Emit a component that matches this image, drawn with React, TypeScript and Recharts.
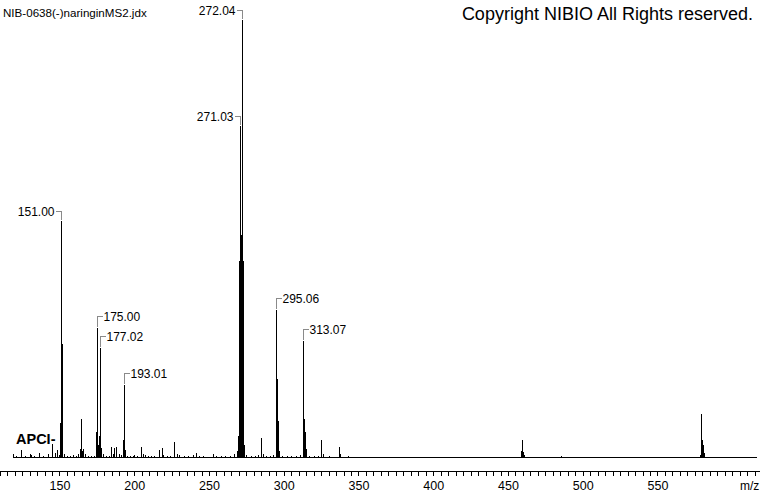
import React from 'react';
import { ComposedChart, Line, Scatter, XAxis, YAxis } from 'recharts';

const FONT = '"Liberation Sans", Arial, Helvetica, sans-serif';

const spectrumTitle = 'NIB-0638(-)naringinMS2.jdx';
const copyrightText = 'Copyright NIBIO All Rights reserved.';
const ionModeText = 'APCI-';
const xAxisTitle = 'm/z';

// scan range of the baseline (m/z)
const scanRange = [119, 616];

// peak positions (m/z) and relative intensities (%)
const peakMz = [
  119.2, 121, 124.4, 127, 130, 131, 133, 136.2, 139, 142.2, 144.7, 145.3, 146.9, 148.2, 149.5,
  150.6, 151.0, 151.4, 152, 153, 155, 157, 159, 161, 162.7, 163.5, 164.5, 165.2, 166, 167, 169,
  171, 173, 174.6, 175.0, 175.4, 176, 176.6, 177.02, 177.4, 178, 179, 181, 183, 184.6, 185.5,
  186.3, 187.9, 189.5, 191, 192.7, 193.01, 193.5, 195, 197, 199, 200, 202, 204.6, 205.7, 207,
  209, 211, 213, 216.4, 218.4, 219.5, 222, 224, 226.5, 228.5, 230, 233, 236, 239, 241, 243, 246,
  249, 252.5, 255, 258, 261, 264, 267, 268.9, 269.6, 270.1, 270.5, 271.03, 271.5, 272.04, 272.5,
  273.0, 273.5, 275, 278, 281, 283, 284.9, 286, 288, 291, 293, 294.6, 295.06, 295.4, 296.3, 297,
  299, 302, 305, 308, 311, 312.6, 313.07, 313.5, 314.2, 315, 317, 320, 323, 325, 326, 330, 333,
  336.9, 337.5, 342.9, 349, 357, 374, 397, 412, 433, 441, 452, 458.5, 459.1, 459.6, 460.1, 461,
  463, 472, 485.6, 561, 563, 578.3, 578.8, 579.17, 579.6, 580.2, 581.2,
];
const peakIntensity = [
  0.8, 0.4, 1.8, 0.4, 0.8, 0.6, 0.4, 1.2, 0.4, 1.0, 3.1, 1.0, 1.2, 1.8, 0.6,
  8, 54.2, 26, 4, 0.8, 0.5, 0.4, 0.6, 0.5, 1.0, 2, 8.9, 1.5, 2.0, 0.8, 0.5,
  0.4, 0.5, 6, 29.7, 14, 3, 5, 25.1, 8, 2.2, 1.0, 0.5, 0.5, 2.6, 0.8,
  2.2, 2.6, 1.0, 0.6, 4, 16.7, 1.8, 0.5, 0.4, 0.5, 0.7, 0.5, 2.4, 1.0, 0.6,
  0.4, 0.4, 0.5, 1.8, 2.2, 0.6, 0.4, 0.5, 3.7, 1.0, 0.6, 0.4, 0.4, 0.6, 1.1, 0.5, 0.4,
  0.3, 0.8, 0.4, 0.5, 0.4, 0.5, 1.0, 1.6, 5, 45, 30, 75.8, 51, 100, 45,
  15, 3, 0.6, 0.4, 0.5, 0.7, 4.6, 0.8, 0.4, 0.4, 0.6, 8, 33.8, 18, 8.4, 1.5,
  0.5, 0.4, 0.4, 0.5, 0.6, 3, 26.6, 9, 6, 2, 0.5, 0.4, 0.4, 4, 0.8, 0.4, 0.3,
  2.4, 0.8, 0.5, 0.3, 0.2, 0.3, 0.3, 0.2, 0.2, 0.2, 0.3, 1.5, 4.1, 2.2, 1.4, 0.7,
  0.3, 0.2, 0.5, 0.3, 0.3, 0.7, 1.2, 10.0, 4, 3, 1.2,
];

// annotated peaks
const labeledMz = [151.0, 175.0, 177.02, 193.01, 271.03, 272.04, 295.06, 313.07];
const labelsOnLeft = [151.0, 271.03, 272.04];

// x axis
const majorTickLabels = [150, 200, 250, 300, 350, 400, 450, 500, 550];
const minorTickStep = 5;
const X_DOMAIN: [number, number] = [109.87, 618.23];
const Y_DOMAIN: [number, number] = [-2.97, 100];

const minorTicks: number[] = [];
for (let t = 110; t <= 615; t += minorTickStep) minorTicks.push(t);

// stick trace: baseline with vertical sticks
const trace: { mz: number; y: number }[] = [{ mz: scanRange[0], y: 0 }];
peakMz.forEach((m, i) => {
  trace.push({ mz: m, y: 0 }, { mz: m, y: peakIntensity[i] }, { mz: m, y: 0 });
});
trace.push({ mz: scanRange[1], y: 0 });

const labeledPoints = labeledMz.map((m) => ({
  mz: m,
  y: peakIntensity[peakMz.indexOf(m)],
  text: m.toFixed(2),
  left: labelsOnLeft.includes(m),
}));

const PeakLabel = (props: any) => {
  const { cx, cy, payload } = props;
  if (cx == null || cy == null) return <g />;
  const px = Math.floor(cx) + 0.5;
  if (payload.left) {
    const ly = Math.round(cy - 10) + 0.5;
    return (
      <g>
        <path d={`M${px - 6},${ly}H${px}V${cy - 1}`} stroke="#8a8a8a" fill="none" strokeWidth={1} />
        <text x={px - 7} y={ly + 4.3} textAnchor="end" fontSize={12} fontFamily={FONT} fill="#000">
          {payload.text}
        </text>
      </g>
    );
  }
  const ly = Math.round(cy - 12) + 0.5;
  return (
    <g>
      <path d={`M${px},${cy - 1}V${ly}H${px + 5}`} stroke="#8a8a8a" fill="none" strokeWidth={1} />
      <text x={px + 6} y={ly + 4.3} textAnchor="start" fontSize={12} fontFamily={FONT} fill="#000">
        {payload.text}
      </text>
    </g>
  );
};

const renderTick = (p: any) => {
  const v = p.payload?.value;
  if (!majorTickLabels.includes(v)) return <g />;
  return (
    <text x={p.x} y={490} textAnchor="middle" fontSize={12.5} fontFamily={FONT} fill="#000">
      {v}
    </text>
  );
};

export default function App() {
  return (
    <div style={{ position: 'absolute', left: 0, top: 0, width: 760, height: 492, background: '#fff' }}>
      <div style={{ position: 'absolute', left: 0, top: 0, shapeRendering: 'crispEdges' } as any}>
        <ComposedChart width={760} height={492} margin={{ top: 20, right: 0, bottom: 0, left: 0 }}>
          <XAxis
            type="number"
            dataKey="mz"
            domain={X_DOMAIN}
            ticks={minorTicks}
            interval={0}
            tickSize={5}
            height={21}
            stroke="#000"
            axisLine={{ stroke: '#000' }}
            tickLine={{ stroke: '#000' }}
            tick={renderTick}
          />
          <YAxis type="number" domain={Y_DOMAIN} hide />
          <Line
            data={trace}
            dataKey="y"
            type="linear"
            stroke="#000"
            strokeWidth={1}
            dot={false}
            activeDot={false}
            isAnimationActive={false}
          />
          <Scatter data={labeledPoints} dataKey="y" shape={PeakLabel} isAnimationActive={false} />
        </ComposedChart>
      </div>
      <svg width={760} height={492} style={{ position: 'absolute', left: 0, top: 0, pointerEvents: 'none' }}>
        <text x={3} y={16.5} fontSize={11.6} fontFamily={FONT} fill="#000">{spectrumTitle}</text>
        <text x={753} y={20} textAnchor="end" fontSize={18} fontFamily={FONT} fill="#000">{copyrightText}</text>
        <text x={16} y={444} fontSize={14.5} fontWeight="bold" fontFamily={FONT} fill="#000">{ionModeText}</text>
        <text x={740} y={490} fontSize={12} fontFamily={FONT} fill="#000">{xAxisTitle}</text>
      </svg>
    </div>
  );
}
